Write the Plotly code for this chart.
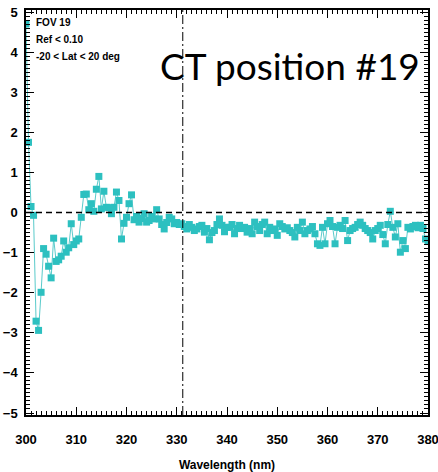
import plotly.graph_objects as go

# ---- data ----
wavelength_start = 300.0
wavelength_step = 0.5
ratio_values = [
    4.70, 1.75, 0.15, -0.07, -2.71, -2.94, -1.99, -0.90, -1.04, -1.34,
    -1.63, -0.64, -1.22, -1.18, -1.09, -0.71, -0.99, -0.88, -0.28, -0.80,
    -0.71, -0.66, -0.12, 0.45, 0.46, 0.07, 0.22, 0.03, 0.58, 0.90,
    0.09, 0.53, 0.13, 0.12, -0.03, 0.13, 0.51, 0.30, -0.66, -0.27,
    -0.12, 0.22, 0.44, -0.18, -0.10, -0.24, -0.15, -0.03, -0.24, -0.20,
    -0.10, -0.16, 0.07, -0.16, -0.30, -0.41, -0.25, -0.12, -0.16, -0.28,
    -0.25, -0.30, -0.28, -0.35, -0.41, -0.30, -0.37, -0.45, -0.41, -0.35,
    -0.32, -0.49, -0.40, -0.68, -0.50, -0.45, -0.30, -0.16, -0.32, -0.48,
    -0.37, -0.37, -0.30, -0.53, -0.40, -0.32, -0.40, -0.37, -0.49, -0.40,
    -0.53, -0.24, -0.35, -0.45, -0.30, -0.24, -0.53, -0.37, -0.45, -0.41,
    -0.57, -0.28, -0.35, -0.41, -0.38, -0.45, -0.50, -0.61, -0.37, -0.45,
    -0.24, -0.53, -0.45, -0.41, -0.35, -0.53, -0.78, -0.82, -0.37, -0.78,
    -0.28, -0.20, -0.35, -0.78, -0.37, -0.32, -0.40, -0.20, -0.70, -0.45,
    -0.40, -0.37, -0.30, -0.24, -0.32, -0.40, -0.45, -0.50, -0.66, -0.45,
    -0.40, -0.32, -0.55, -0.78, -0.30, 0.03, -0.37, -0.61, -0.28, -0.99,
    -0.70, -0.90, -0.37, -0.41, -0.35, -0.32, -0.38, -0.32, -0.40, -0.66,
    -0.70,
]
wavelengths = [wavelength_start + wavelength_step * i for i in range(len(ratio_values))]

x_ticks = [300, 310, 320, 330, 340, 350, 360, 370, 380]
y_ticks = [-5, -4, -3, -2, -1, 0, 1, 2, 3, 4, 5]
info_lines = ["FOV 19", "Ref < 0.10", "-20 < Lat < 20 deg"]
big_label = "CT position #19"
x_title = "Wavelength (nm)"
zero_level = 0
reference_wavelength = 331.2

CYAN = "#2DC0C0"
TICK_FONT = "Liberation Sans, Arial, sans-serif"

fig = go.Figure()
fig.add_trace(go.Scatter(
    x=wavelengths, y=ratio_values, mode="lines+markers",
    line=dict(color="#5ACBCB", width=1),
    marker=dict(symbol="square", size=7, color=CYAN),
    showlegend=False,
))

# reference lines
fig.add_shape(type="line", xref="paper", x0=0, x1=1, yref="y", y0=zero_level, y1=zero_level,
              line=dict(color="black", width=1.5, dash="6px,4px"), layer="above")
fig.add_shape(type="line", xref="x", x0=reference_wavelength, x1=reference_wavelength,
              yref="paper", y0=0, y1=1,
              line=dict(color="black", width=1, dash="9px,3px,2px,3px"), layer="above")

for i, t in enumerate(info_lines):
    fig.add_annotation(text=t, xref="paper", yref="paper", x=0.02, y=0.97 - i * 0.043,
                       xanchor="left", yanchor="middle", showarrow=False,
                       font=dict(family=TICK_FONT, size=10, color="black", weight="bold"))

fig.add_annotation(text=big_label, xref="paper", yref="paper", x=0.657, y=0.864,
                   xanchor="center", yanchor="middle", showarrow=False,
                   font=dict(family="Lato, Open Sans, sans-serif", size=37, color="black"))

axis_common = dict(
    showline=True, linecolor="black", linewidth=1.5, mirror="allticks",
    ticks="inside", ticklen=8, tickwidth=1, tickcolor="black",
    showgrid=False, zeroline=False, ticklabeloverflow="allow", automargin=False,
    tickfont=dict(family=TICK_FONT, size=13, color="black", weight="bold"),
)

fig.update_xaxes(range=[300, 380], tickvals=x_ticks, ticklabelstandoff=12,
                 minor=dict(dtick=1, ticks="inside", ticklen=4, tickcolor="black", showgrid=False),
                 title=dict(text=x_title, standoff=18,
                            font=dict(family=TICK_FONT, size=12, color="black", weight="bold")),
                 **axis_common)
fig.update_yaxes(range=[-5.05, 5.05], tickvals=y_ticks, ticklabelstandoff=4,
                 minor=dict(dtick=0.1, ticks="inside", ticklen=4, tickcolor="black", showgrid=False),
                 **axis_common)

fig.update_layout(
    width=438, height=472,
    margin=dict(l=26, r=10, t=10, b=57),
    plot_bgcolor="white", paper_bgcolor="white",
)

fig.write_html("out.html")
